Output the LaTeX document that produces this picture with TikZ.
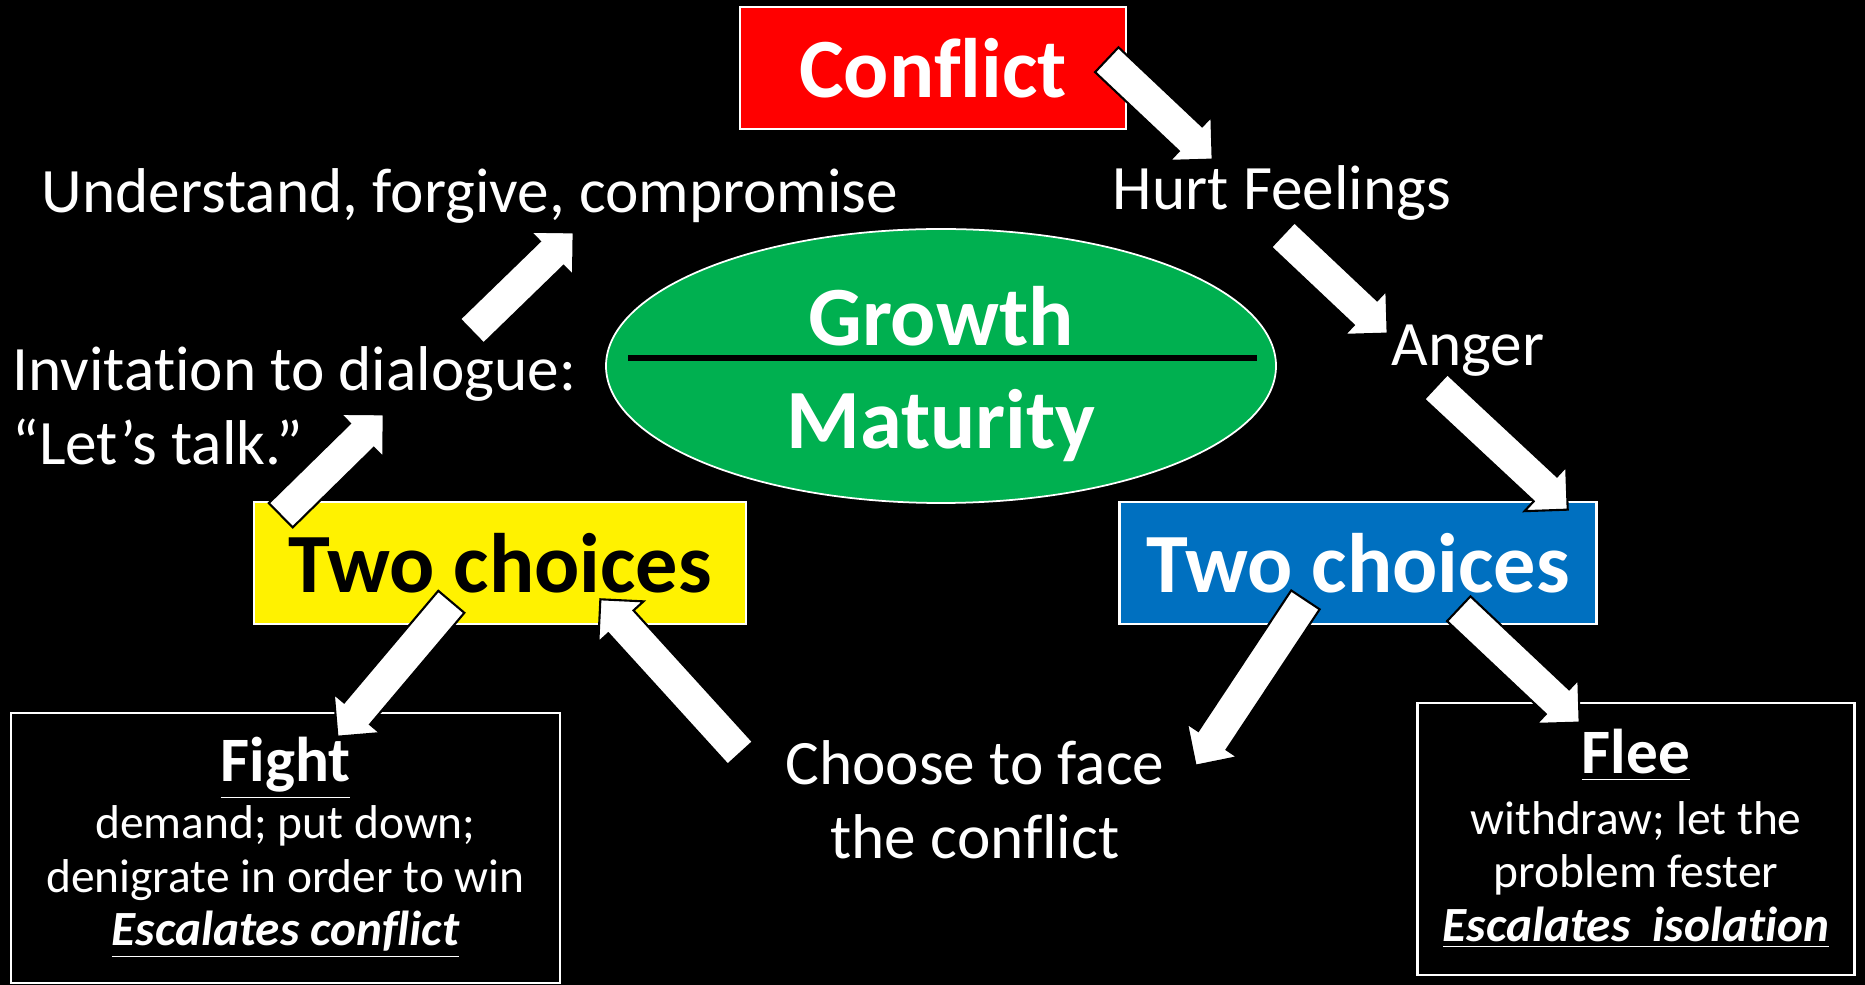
\documentclass[tikz,border=0pt]{standalone}
\usepackage{fontspec}
\setmainfont{Carlito}[Ligatures=NoCommon]
\usetikzlibrary{shapes.arrows,shapes.geometric,calc}
\definecolor{growgreen}{HTML}{00B050}
\definecolor{choiceblue}{HTML}{0070C0}
\newcommand{\blockarrow}[2]{%
  \path let \p1=($(#2)-(#1)$), \n1={atan2(\y1,\x1)}, \n2={veclen(\x1,\y1)} in
    node[fatarrow,rotate=\n1,minimum height=\n2,anchor=tail] at (#1) {};}
\begin{document}
\begin{tikzpicture}[
    txt/.style={text=white,inner sep=0pt,font=\fontsize{18}{21}\selectfont},
    big/.style={font=\fontsize{24}{29}\selectfont\bfseries},
    colbox/.style={draw=white,line width=0.6pt,minimum height=1.22cm,big},
    sidebox/.style={draw=white,line width=0.6pt,align=center,text=white,font=\fontsize{13.5}{15.2}\selectfont},
    fatarrow/.style={single arrow,draw=black,fill=white,line width=0.6pt,inner xsep=0pt,inner ysep=0.16cm,
        text height=0pt,text depth=0pt,minimum width=0pt,single arrow head extend=0.135cm,single arrow tip angle=90}]
    \fill [black] (0,0) rectangle (18.65,-9.85);
    \useasboundingbox (0,0) rectangle (18.65,-9.85);

    \node [colbox,fill=red,text=white,minimum width=3.86cm] (conflict) at (9.33,-0.68) {Conflict};
    \node [txt,anchor=base] (hurt) at (12.82,-2.10) {Hurt Feelings};
    \node [txt,anchor=base] (anger) at (14.68,-3.66) {Anger};
    \node [txt,anchor=base] (understand) at (4.70,-2.13) {Understand, forgive, compromise};
    \node [txt,anchor=west,align=left] (invite) at (0.12,-4.06) {Invitation to dialogue:\\“Let’s talk.”};
    \node [txt,align=center] (choose) at (9.75,-8.00) {Choose to face\\the conflict};

    \node [ellipse,draw=white,line width=0.5pt,fill=growgreen,minimum width=6.70cm,minimum height=2.74cm] (growth) at (9.41,-3.66) {};
    \draw [black,line width=1.7pt] ([shift={(-3.13,0.08)}]growth.center)--([shift={(3.16,0.08)}]growth.center);
    \node [big,text=white,anchor=base] (grow) at (9.41,-3.46) {Growth};
    \node [big,text=white,anchor=base] (mature) at (9.41,-4.49) {Maturity};

    \node [colbox,fill=yellow,text=black,minimum width=4.92cm] (leftchoice) at (5.00,-5.63) {Two choices};
    \node [colbox,fill=choiceblue,text=white,minimum width=4.77cm] (rightchoice) at (13.58,-5.63) {Two choices};

    \node [sidebox,minimum width=5.49cm,minimum height=2.70cm] (fight) at (2.855,-8.48)
        {{\fontsize{18}{20}\selectfont\bfseries\underline{Fight}}\\[1pt]
         demand; put down;\\denigrate in order to win\\
         {\fontsize{14}{16}\selectfont\bfseries\itshape\underline{Escalates conflict}}};
    \node [sidebox,minimum width=4.37cm,minimum height=2.72cm] (flee) at (16.36,-8.39)
        {{\fontsize{18}{20}\selectfont\bfseries\underline{Flee}}\\[2pt]
         withdraw; let the\\problem fester\\
         {\fontsize{14}{16}\selectfont\bfseries\itshape\underline{Escalates~~isolation}}};

    \coordinate (t1) at (11.06,-0.59); \coordinate (h1) at (12.12,-1.59);
    \coordinate (t2) at (12.82,-2.34); \coordinate (h2) at (13.87,-3.33);
    \coordinate (t3) at (14.35,-3.86); \coordinate (h3) at (15.67,-5.09);
    \coordinate (t4) at (13.06,-5.99); \coordinate (h4) at (11.96,-7.65);
    \coordinate (t5) at (14.58,-6.08); \coordinate (h5) at (15.79,-7.22);
    \coordinate (t6) at (7.41,-7.54);  \coordinate (h6) at (6.01,-6.00);
    \coordinate (t7) at (4.52,-6.01);  \coordinate (h7) at (3.38,-7.36);
    \coordinate (t8) at (2.80,-5.16);  \coordinate (h8) at (3.83,-4.15);
    \coordinate (t9) at (4.71,-3.32);  \coordinate (h9) at (5.73,-2.33);
    \foreach \i in {1,...,9} {\blockarrow{t\i}{h\i}}
\end{tikzpicture}
\end{document}
